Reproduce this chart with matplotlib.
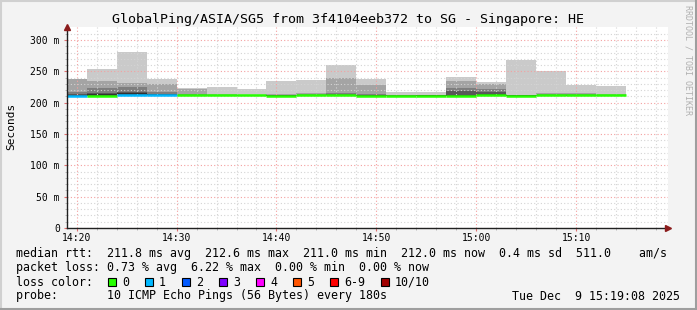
import numpy as np
import matplotlib.pyplot as plt
from matplotlib.patches import Rectangle
from matplotlib.lines import Line2D

title = "GlobalPing/ASIA/SG5 from 3f4104eeb372 to SG - Singapore: HE"

# start of every 3 min bucket (first one is partial) and end of the last one
starts = ["14:19", "14:21", "14:24", "14:27", "14:30", "14:33", "14:36", "14:39", "14:42", "14:45",
          "14:48", "14:51", "14:54", "14:57", "15:00", "15:03", "15:06", "15:09", "15:12"]
end = "15:15"

# 10 sorted pings per bucket (ms), nan = lost
pings = [
    [210.0, 210.2, 210.5, 210.8, 211.0, 211.5, 214.0, 217.6, 238.5, np.nan],
    [210.3, 210.6, 210.9, 211.1, 211.3, 213.3, 216.0, 224.0, 235.2, 253.8],
    [210.5, 211.0, 211.5, 212.0, 212.6, 215.0, 217.6, 225.6, 232.0, 281.0],
    [210.5, 211.0, 211.5, 212.0, 212.4, 213.5, 214.5, 216.3, 229.8, 238.5],
    [210.5, 211.0, 211.5, 211.8, 212.2, 212.6, 213.0, 214.0, 222.5, 224.0],
    [210.5, 210.9, 211.3, 211.7, 212.0, 212.3, 212.7, 213.0, 213.5, 225.0],
    [210.3, 210.7, 211.0, 211.3, 211.6, 211.9, 212.2, 212.6, 213.0, 221.3],
    [210.2, 210.5, 210.9, 211.2, 211.4, 211.7, 212.2, 213.0, 214.5, 235.2],
    [210.5, 210.9, 211.3, 211.7, 212.0, 212.4, 213.0, 214.0, 216.0, 236.8],
    [210.6, 211.0, 211.5, 211.9, 212.2, 212.6, 213.5, 215.0, 239.4, 260.2],
    [210.2, 210.5, 210.8, 211.0, 211.2, 211.6, 213.0, 214.0, 228.2, 237.8],
    [210.2, 210.5, 210.8, 211.0, 211.2, 211.4, 211.7, 212.0, 212.5, 217.0],
    [210.3, 210.6, 210.9, 211.2, 211.4, 211.6, 211.9, 212.2, 212.6, 217.0],
    [210.0, 210.3, 210.6, 210.8, 211.0, 212.0, 218.7, 224.0, 235.2, 241.0],
    [210.5, 211.0, 211.5, 212.0, 212.4, 214.5, 216.5, 221.3, 229.3, 233.0],
    [210.3, 210.6, 210.9, 211.2, 211.4, 211.7, 212.0, 212.5, 213.0, 268.7],
    [210.4, 210.8, 211.1, 211.4, 211.6, 211.9, 212.4, 213.5, 215.7, 250.6],
    [210.4, 210.8, 211.1, 211.4, 211.6, 211.9, 212.4, 213.5, 215.5, 228.2],
    [210.6, 211.0, 211.4, 211.7, 212.0, 212.3, 212.7, 213.0, 213.5, 227.2],
]
median = [211.0, 211.4, 212.6, 212.4, 212.2, 212.0, 211.6, 211.4, 212.0, 212.2,
          211.2, 211.2, 211.4, 211.0, 212.4, 211.4, 211.6, 211.6, 212.0]
loss = [1, 0, 1, 1, 0, 0, 0, 0, 0, 0, 0, 0, 0, 0, 0, 0, 0, 0, 0]

loss_labels = ["0", "1", "2", "3", "4", "5", "6-9", "10/10"]
loss_colors = ["#26ff00", "#00b8ff", "#0059ff", "#7e00ff", "#ff00ff", "#ff5500", "#ff0000", "#a10000"]

xtick_labels = ["14:20", "14:30", "14:40", "14:50", "15:00", "15:10"]
ytick_values = [0, 50, 100, 150, 200, 250, 300]
ytick_labels = ["0", "50 m", "100 m", "150 m", "200 m", "250 m", "300 m"]

rtt_line = "median rtt:  211.8 ms avg  212.6 ms max  211.0 ms min  212.0 ms now  0.4 ms sd  511.0    am/s"
loss_line = "packet loss: 0.73 % avg  6.22 % max  0.00 % min  0.00 % now"
probe_line = "probe:       10 ICMP Echo Pings (56 Bytes) every 180s"
stamp = "Tue Dec  9 15:19:08 2025"


def to_min(t):
    h, m = t.split(":")
    return int(h) * 60 + int(m)


W, H = 697, 310
plt.rcParams["font.family"] = "DejaVu Sans Mono"

fig = plt.figure(figsize=(W / 100, H / 100), dpi=100)
fig.patch.set_facecolor("#f3f3f3")


def fx(x):
    return x / W


def fy(y):
    return 1 - y / H


left, right, top, bottom = 66.7, 668, 27, 228
ax = fig.add_axes([fx(left), fy(bottom), (right - left) / W, (bottom - top) / H])
ax.set_facecolor("white")

x0 = np.array([to_min(s) for s in starts], dtype=float)
x1 = np.append(x0[1:], to_min(end))
p = np.array(pings)

# smoke: outer pairs light, inner pairs dark (like smokeping)
grays = ["#cacaca", "#a4a4a4", "#7e7e7e", "#585858", "#323232"]
for i, g in enumerate(grays):
    lo, hi = p[:, i], p[:, 9 - i]
    ok = np.isfinite(lo) & np.isfinite(hi)
    ax.bar(x0[ok], hi[ok] - lo[ok], bottom=lo[ok], width=(x1 - x0)[ok], align="edge",
           color=g, linewidth=0, zorder=1)

# median line coloured by loss
for a, b, m, l in zip(x0, x1, median, loss):
    ax.plot([a, b], [m, m], color=loss_colors[l], lw=1.8, solid_capstyle="butt", zorder=3)

xmin, xmax = to_min("14:19"), to_min("14:19") + 60.2
ymax = 300 + 13 * 300 / 188
ax.set_xlim(xmin, xmax)
ax.set_ylim(0, ymax)

ax.set_xticks([to_min(t) for t in xtick_labels])
ax.set_xticklabels(xtick_labels)
ax.set_xticks(np.arange(to_min("14:20"), xmax, 2), minor=True)
ax.set_yticks(ytick_values)
ax.set_yticklabels(ytick_labels)
ax.set_yticks(np.arange(0, 311, 10), minor=True)

ax.set_axisbelow(False)
ax.grid(which="major", color="#f4a0a0", linestyle=(0, (1, 2)), lw=0.8, zorder=2)
ax.grid(which="minor", color="#d4d4d4", linestyle=(0, (1, 2)), lw=0.8, zorder=2)

ax.tick_params(which="major", length=2, width=0.8, color="#e07070", labelsize=7, pad=3)
ax.tick_params(which="minor", length=1.5, width=0.6, color="#b0b0b0")
ax.tick_params(axis="x", pad=1.5)

for s in ["top", "right"]:
    ax.spines[s].set_visible(False)
for s in ["left", "bottom"]:
    ax.spines[s].set_color("#202020")
    ax.spines[s].set_linewidth(1.0)
    ax.spines[s].set_zorder(4)

# axis arrows
ax.plot([xmin], [ymax], marker="^", ms=4.5, color="#8b1c1c", clip_on=False, zorder=5)
ax.plot([xmax], [0], marker=">", ms=4.5, color="#8b1c1c", clip_on=False, zorder=5)

# title, y label, watermark
fig.text(fx(348), fy(19), title, ha="center", va="center", fontsize=9.6)
fig.text(fx(11), fy(126), "Seconds", rotation=90, ha="center", va="center", fontsize=8)
fig.text(fx(688), fy(60), "RRDTOOL / TOBI OETIKER", rotation=270, ha="center", va="center",
         fontsize=6, color="#b0b0b0")

# legend block
fs = 8.4
fig.text(fx(16), fy(254), rtt_line, va="center", fontsize=fs)
fig.text(fx(16), fy(268), loss_line, va="center", fontsize=fs)

fig.text(fx(16), fy(282), "loss color:", va="center", fontsize=fs)
bx = 108
for lab, c in zip(loss_labels, loss_colors):
    fig.add_artist(Rectangle((fx(bx), fy(285.5)), 8 / W, 8 / H, transform=fig.transFigure,
                             facecolor=c, edgecolor="black", lw=0.8))
    fig.text(fx(bx + 14), fy(282), lab, va="center", fontsize=fs)
    bx += 37 + 7 * (len(lab) - 1)

fig.text(fx(16), fy(296), probe_line, va="center", fontsize=fs)
fig.text(fx(680), fy(296), stamp, va="center", ha="right", fontsize=fs)

# 3d frame around the image
for xa, ya, c in [([0, W], [0.8, 0.8], "#d0d0d0"), ([0.8, 0.8], [0, H], "#d0d0d0"),
                  ([0, W], [H - 1, H - 1], "#9e9e9e"), ([W - 1, W - 1], [0, H], "#9e9e9e")]:
    fig.add_artist(Line2D([fx(v) for v in xa], [fy(v) for v in ya], color=c, lw=1.5,
                          transform=fig.transFigure))

fig.savefig("out.png", dpi=100, facecolor=fig.get_facecolor())
